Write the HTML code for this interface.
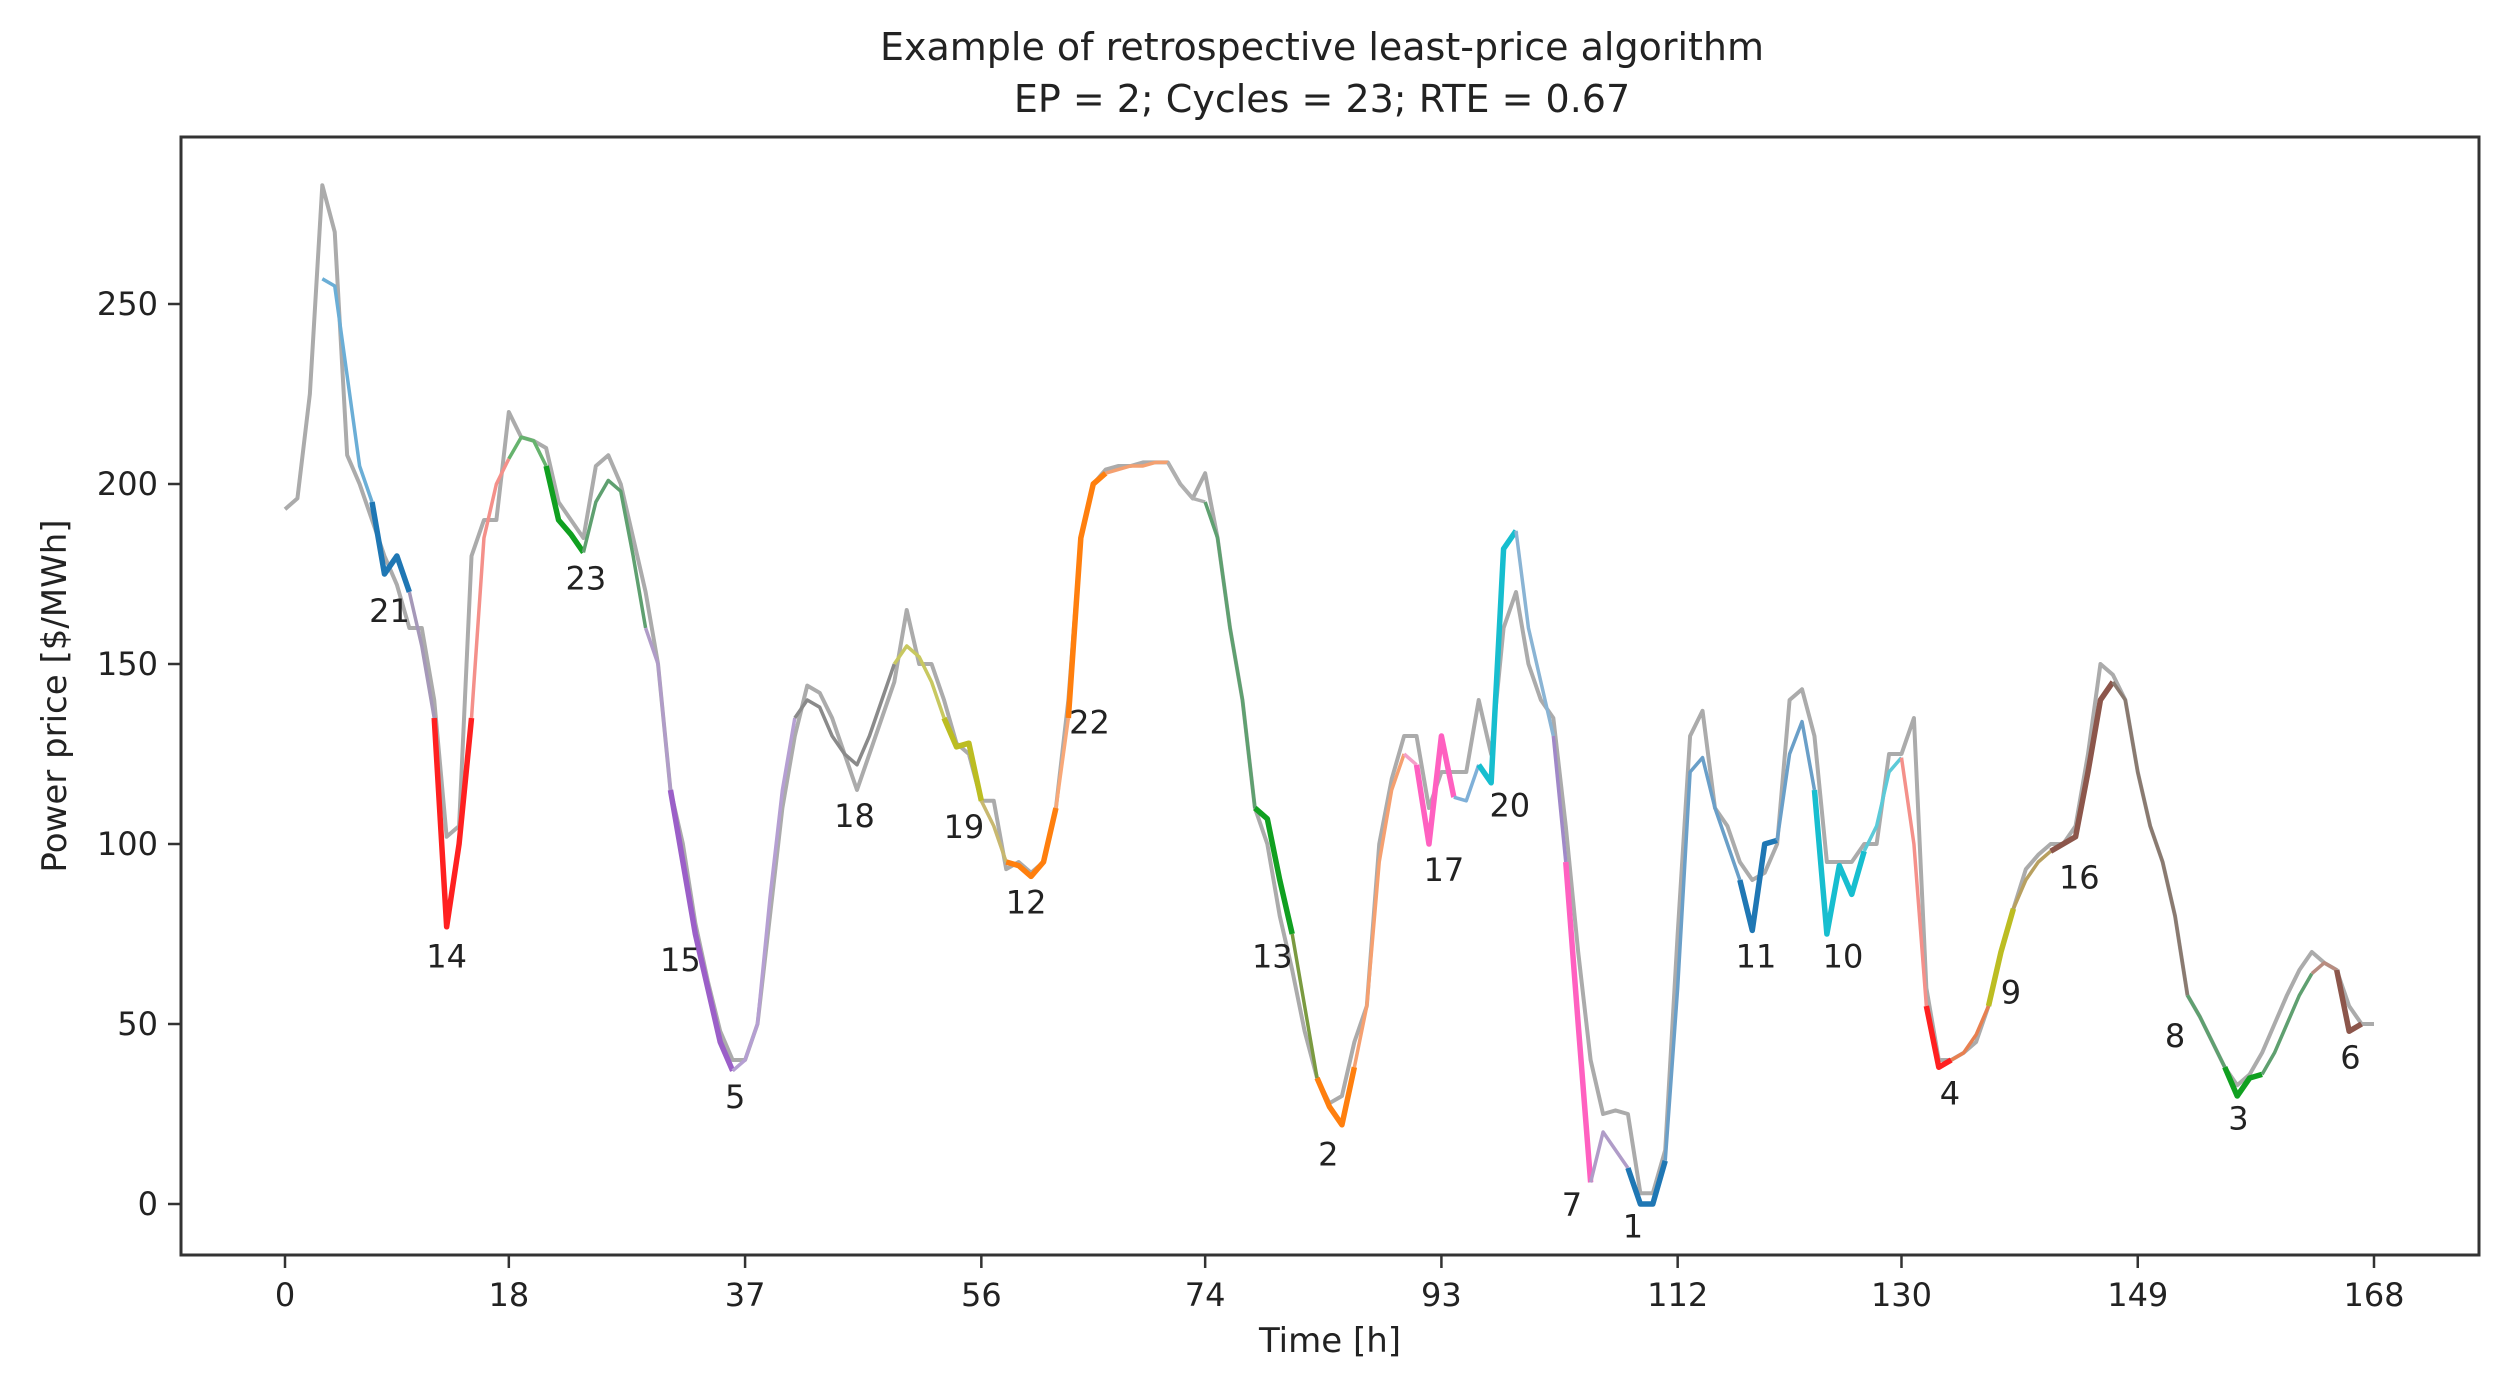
<!DOCTYPE html>
<html><head><meta charset="utf-8"><style>
html,body{margin:0;padding:0;background:#fff;}
svg{display:block;font-family:"DejaVu Sans","Liberation Sans",sans-serif;}
</style></head><body>
<svg id="chart" width="2508" height="1387" viewBox="0 0 2508 1387">
<rect x="0" y="0" width="2508" height="1387" fill="#fff"/>
<text x="1322" y="60" text-anchor="middle" font-size="38" fill="#222">Example of retrospective least-price algorithm</text>
<text x="1322" y="112" text-anchor="middle" font-size="38" fill="#222">EP = 2; Cycles = 23; RTE = 0.67</text>
<g id="plot"></g>
<rect x="181" y="137" width="2298" height="1118" fill="none" stroke="#333" stroke-width="3"/>
<g id="xt"></g>
<g id="yt"></g>
<text x="1330" y="1352" text-anchor="middle" font-size="34" fill="#222">Time [h]</text>
<text x="0" y="0" transform="translate(66,696) rotate(-90)" text-anchor="middle" font-size="34" fill="#222">Power price [$/MWh]</text>
</svg>
<script>
const xTicks = [0,18,37,56,74,93,112,130,149,168];
const yTicks = [0,50,100,150,200,250];
const grayPrice = [
193,196,225,283,270,208,200,190,180,172,
160,160,140,102,105,180,190,190,220,213,
212,210,195,190,185,205,208,200,185,170,
150,115,100,78,62,48,40,40,50,80,
110,130,144,142,135,125,115,125,135,145,
165,150,150,140,128,125,112,112,93,95,
92,95,110,140,185,200,204,205,205,206,
206,206,200,196,203,185,160,140,110,100,
80,65,48,35,28,30,45,55,100,118,
130,130,110,120,120,120,140,125,160,170,
150,140,135,105,70,40,25,26,25,3,
3,15,75,130,137,110,105,95,90,92,
100,140,143,130,95,95,95,100,100,125,
125,135,60,40,40,42,45,55,70,82,
93,97,100,100,105,125,150,147,140,120,
105,95,80,58,52,45,38,33,36,42,
50,58,65,70,67,65,55,50,50];
const cycleStart = 3;
const cyclePrice = [
257,255,230,205,195,175,180,170,155,135,
77,100,135,185,200,207,213,212,205,190,
186,181,195,201,198,180,160,150,115,95,
75,60,45,37,40,50,85,115,135,140,
138,130,125,122,130,140,150,155,152,145,
135,127,128,112,105,95,94,91,95,110,
135,185,200,203,204,205,205,206,206,200,
196,195,185,160,140,110,107,90,75,55,
35,27,22,38,55,95,115,125,122,100,
130,113,112,122,117,182,187,160,145,130,
95,50,6,20,15,10,0,0,12,60,
120,124,110,100,90,76,100,101,125,134,
115,75,94,86,98,105,120,124,100,55,
38,40,42,47,55,70,82,90,95,98,
100,102,120,140,145,140,120,105,95,80,
58,52,45,38,30,35,36,42,50,58,
64,67,65,48,50];
const segStarts = [3,7,10,12,15,18,21,24,29,31,36,41,49,53,56,58,62,63,66,71,74,78,81,83,86,90,91,94,96,99,102,103,105,108,111,117,120,123,127,130,132,134,137,139,142,147,153,156,159,163,165];
const segEnds   = [7,10,12,15,18,21,24,29,31,36,41,49,53,56,58,62,63,66,71,74,78,81,83,86,90,91,94,96,99,102,103,105,108,111,117,120,123,127,130,132,134,137,139,142,147,153,156,159,163,165,167];
const segColors = ["#6baed6","#1f77b4","#a598b8","#ff2020","#f4908a","#66b36e","#10a020","#5fa070","#b09cc8","#9b5fc8","#b59fd2","#8a8a8a","#c8c860","#bcbd22","#c8b870","#ff7f0e","#f8a878","#ff7f0e","#f4a070","#b0b0b0","#5fa070","#10a020","#7a9a40","#ff7f0e","#f5a070","#f4a0c8","#ff60c0","#7fb0d8","#17becf","#8ab4d4","#a088c8","#ff60c0","#b09cc8","#1f77b4","#6a9fc8","#1f77b4","#6a9fc8","#17becf","#5ccad8","#f4908a","#ff2020","#e88050","#bcbd22","#b8a060","#8c564b","#8a7a70","#5fa070","#10a020","#5fa070","#b88c80","#8c564b"];
const segBold = [0,1,0,1,0,0,1,0,0,1,0,0,0,1,0,1,0,1,0,0,0,1,0,1,0,0,1,0,1,0,0,1,0,1,0,1,0,1,0,0,1,0,1,0,1,0,0,1,0,0,1];
const labelTexts = ["21","23","14","15","5","18","19","12","22","13","2","17","20","7","1","11","10","4","9","16","8","3","6"];
const labelHours = [8.4,24.2,13.0,31.8,36.2,45.8,54.6,59.6,64.7,79.4,83.9,93.2,98.5,103.5,108.4,118.3,125.3,133.9,138.8,144.3,152.0,157.1,166.1];
const labelValues = [165,174,69,68,30,108,105,84,134,69,14,93,111,0,-6,69,69,31,59,91,47,24,41];

const NS = "http://www.w3.org/2000/svg";
const X0 = 285, PXH = (2374-285)/168, Y0 = 1204, PXV = (1204-304)/250;
function sx(h){return X0 + h*PXH;}
function sy(v){return Y0 - v*PXV;}
const plot = document.getElementById('plot');
const xt = document.getElementById('xt');
const yt = document.getElementById('yt');

xTicks.forEach(t=>{
  const l=document.createElementNS(NS,'line');
  l.setAttribute('x1',sx(t));l.setAttribute('x2',sx(t));l.setAttribute('y1',1255);l.setAttribute('y2',1268);
  l.setAttribute('stroke','#333');l.setAttribute('stroke-width','2.5');
  
  
  xt.appendChild(l);
  const tx=document.createElementNS(NS,'text');
  tx.setAttribute('x',sx(t));tx.setAttribute('y',1306);tx.setAttribute('text-anchor','middle');
  tx.setAttribute('font-size','32');tx.setAttribute('fill','#222');tx.textContent=t;
  
  
  xt.appendChild(tx);
});
yTicks.forEach(t=>{
  const l=document.createElementNS(NS,'line');
  l.setAttribute('x1',168);l.setAttribute('x2',181);l.setAttribute('y1',sy(t));l.setAttribute('y2',sy(t));
  l.setAttribute('stroke','#333');l.setAttribute('stroke-width','2.5');
  
  
  yt.appendChild(l);
  const tx=document.createElementNS(NS,'text');
  tx.setAttribute('x',158);tx.setAttribute('y',sy(t)+11);tx.setAttribute('text-anchor','end');
  tx.setAttribute('font-size','32');tx.setAttribute('fill','#222');tx.textContent=t;
  
  
  yt.appendChild(tx);
});

const gp=document.createElementNS(NS,'polyline');
gp.setAttribute('points',grayPrice.map((v,i)=>sx(i)+','+sy(v)).join(' '));
gp.setAttribute('fill','none');gp.setAttribute('stroke','#ababab');gp.setAttribute('stroke-width','4');gp.setAttribute('stroke-linejoin','round');


plot.appendChild(gp);

segStarts.forEach((s,k)=>{
  const e=segEnds[k];
  const pts=[];
  for(let h=s;h<=e;h++){const v=cyclePrice[h-cycleStart]; if(v!==undefined) pts.push(sx(h)+','+sy(v));}
  const p=document.createElementNS(NS,'polyline');
  p.setAttribute('points',pts.join(' '));
  p.setAttribute('fill','none');p.setAttribute('stroke',segColors[k]);
  p.setAttribute('stroke-width',segBold[k]?'5.5':'3.5');p.setAttribute('stroke-linejoin','round');
  
  
  plot.appendChild(p);
});

labelTexts.forEach((t,i)=>{
  const tx=document.createElementNS(NS,'text');
  tx.setAttribute('x',sx(labelHours[i]));tx.setAttribute('y',sy(labelValues[i])+12);
  tx.setAttribute('text-anchor','middle');tx.setAttribute('font-size','32');tx.setAttribute('fill','#222');
  tx.textContent=t;
  
  
  plot.appendChild(tx);
});
</script>
</body></html>
